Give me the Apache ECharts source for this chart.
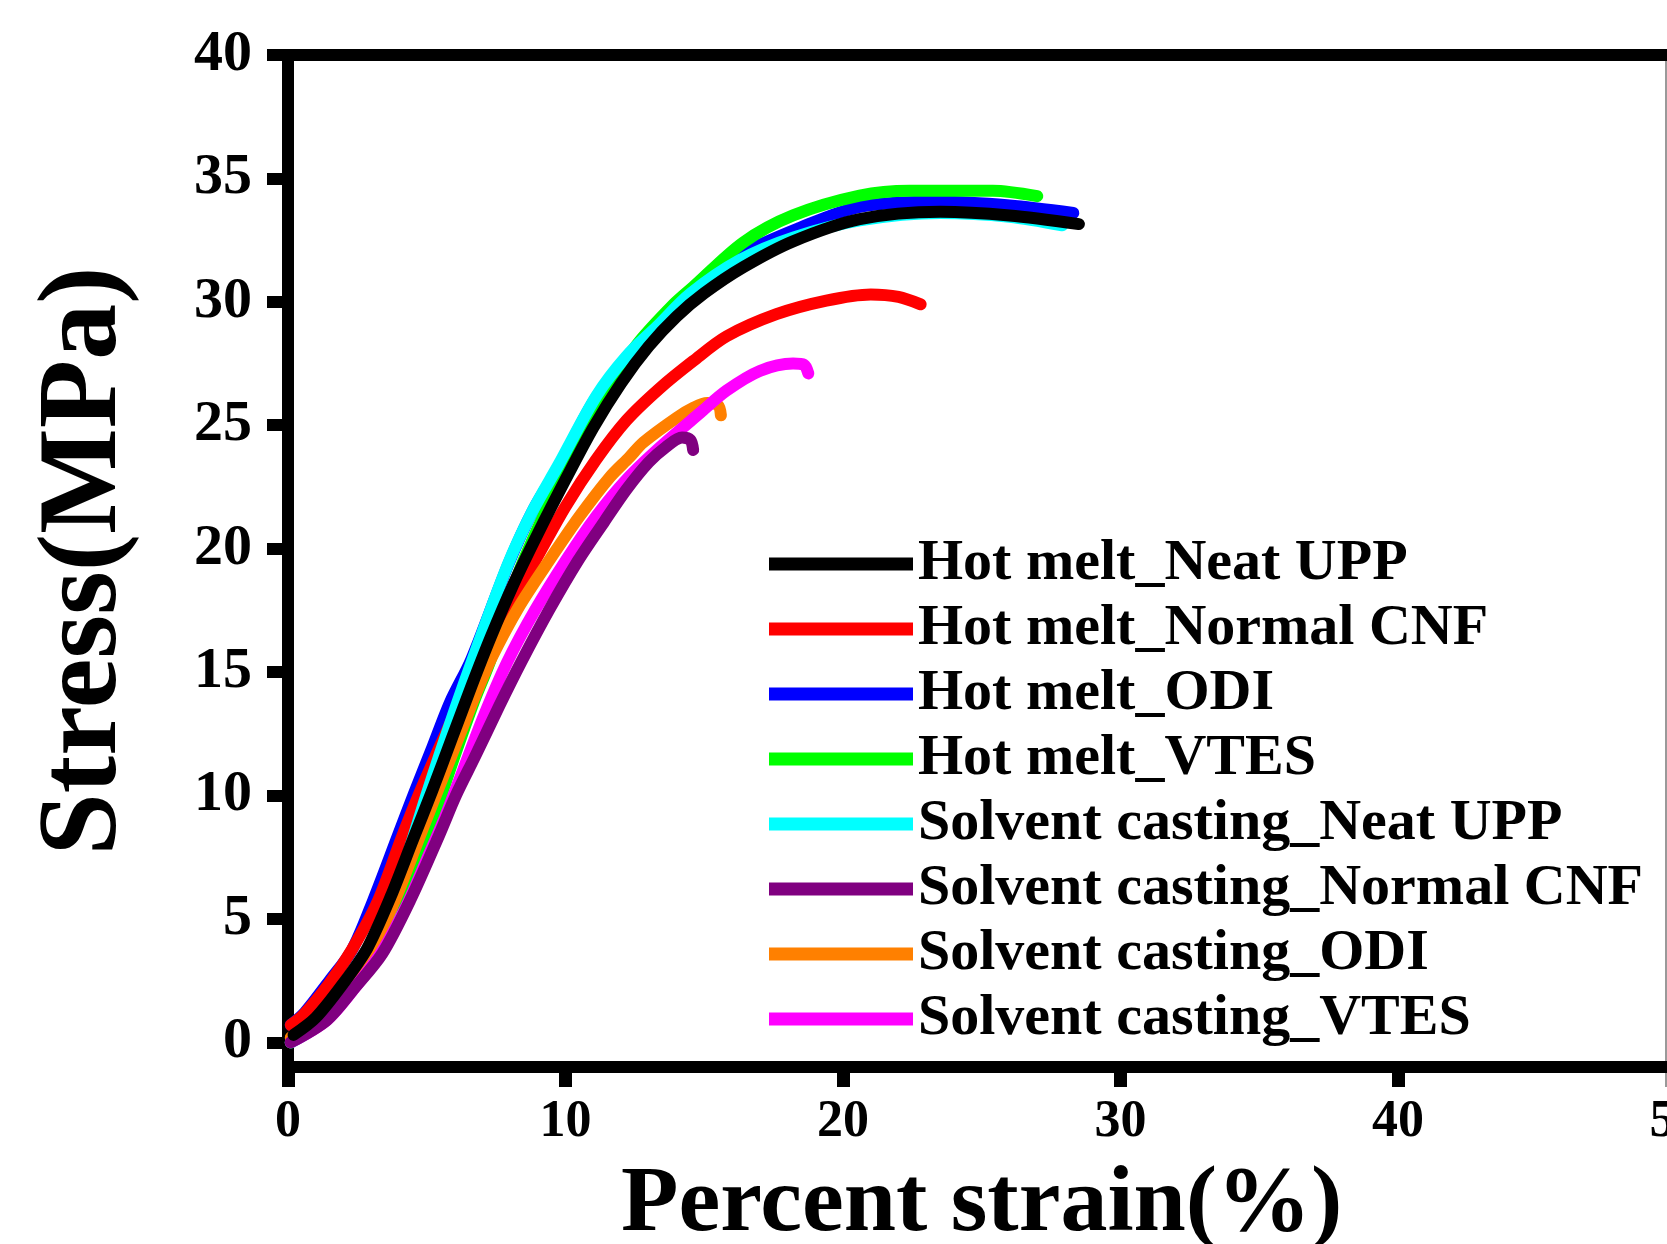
<!DOCTYPE html>
<html>
<head>
<meta charset="utf-8">
<script src="https://cdn.jsdelivr.net/npm/echarts@6/dist/echarts.min.js"></script>
<style>
  html, body { margin: 0; padding: 0; background: #fff; }
  #chart { width: 1667px; height: 1244px; }
</style>
</head>
<body>
<div id="chart"></div>
<script>
// series names, in the legend order
var seriesNames = [
  'Hot melt_Neat UPP',
  'Hot melt_Normal CNF',
  'Hot melt_ODI',
  'Hot melt_VTES',
  'Solvent casting_Neat UPP',
  'Solvent casting_Normal CNF',
  'Solvent casting_ODI',
  'Solvent casting_VTES'
];

var xTicks = [0, 10, 20, 30, 40, 50];
var yTicks = [0, 5, 10, 15, 20, 25, 30, 35, 40];

// [strain %, stress MPa]
var hotMeltNeat = [[0.2,0.3],[1.0,1.0],[2.0,2.4],[2.85,3.8],[3.7,5.9],[4.5,8.2],[5.2,10.2],[5.9,12.3],[6.6,14.4],[7.3,16.4],[8.1,18.5],[9.0,20.6],[10.0,22.8],[11.0,24.9],[12.0,26.7],[13.0,28.2],[14.0,29.4],[15.0,30.35],[16.4,31.4],[18.2,32.45],[20.6,33.35],[23.5,33.65],[26.0,33.5],[28.5,33.15]];
var hotMeltCNF = [[0.1,0.7],[0.55,1.1],[1.5,2.4],[2.3,3.75],[3.25,5.75],[4.1,8.3],[4.7,10.0],[5.4,11.8],[6.2,13.8],[7.0,15.7],[8.0,17.7],[8.9,19.5],[10.0,21.7],[11.1,23.6],[12.2,25.2],[13.4,26.5],[14.6,27.6],[15.8,28.6],[17.6,29.5],[19.4,30.05],[21.0,30.3],[22.0,30.2],[22.8,29.9]];
var hotMeltODI = [[0.1,0.7],[0.6,1.2],[1.5,2.5],[2.3,3.73],[3.07,5.75],[3.97,8.4],[4.55,10.1],[5.15,11.8],[5.85,13.8],[6.6,15.5],[7.95,19.4],[8.85,21.6],[9.8,23.4],[11.15,26.2],[13.3,29.0],[14.45,30.35],[16.2,31.85],[18.45,33.0],[20.6,33.85],[23.5,34.05],[26.0,33.9],[28.3,33.6]];
var hotMeltVTES = [[0.1,0.0],[1.4,1.0],[2.4,2.3],[3.3,3.7],[4.1,5.75],[5.05,8.46],[5.95,11.43],[6.7,13.8],[7.3,15.5],[8.3,19.0],[9.9,23.0],[11.2,26.0],[12.6,28.3],[13.9,29.9],[14.6,30.6],[16.4,32.4],[18.2,33.5],[20.6,34.3],[22.4,34.5],[25.4,34.5],[27.0,34.28]];
var solventNeat = [[0.1,0.0],[0.8,0.45],[1.4,1.03],[2.35,2.38],[3.2,3.73],[3.8,5.7],[4.35,7.7],[4.9,9.7],[5.45,11.6],[6.05,13.6],[6.65,15.5],[7.9,19.3],[8.8,21.5],[9.75,23.4],[11.12,26.2],[12.2,27.8],[13.3,29.0],[14.5,30.33],[16.3,31.7],[18.2,32.6],[20.6,33.3],[23.5,33.6],[26.0,33.45],[27.9,33.1]];
var solventCNF = [[0.1,0.0],[1.4,0.9],[2.4,2.2],[3.4,3.6],[4.4,5.75],[5.45,8.4],[6.05,10.0],[6.75,11.6],[7.6,13.6],[8.4,15.4],[9.4,17.5],[10.46,19.53],[11.4,21.1],[12.2,22.4],[13.0,23.5],[13.6,24.1],[14.2,24.5],[14.5,24.4],[14.6,24.0]];
var solventODI = [[0.1,0.2],[1.3,1.0],[2.2,2.3],[3.0,3.7],[3.85,5.75],[4.8,8.5],[5.5,10.5],[6.2,12.5],[6.8,14.2],[7.3,15.5],[8.3,17.6],[9.4,19.5],[10.5,21.3],[11.6,22.9],[12.3,23.7],[12.8,24.3],[14.0,25.3],[14.6,25.7],[15.1,25.9],[15.5,25.8],[15.6,25.4]];
var solventVTES = [[0.1,0.0],[1.4,0.9],[2.4,2.2],[3.4,3.7],[4.3,5.6],[5.0,7.4],[5.65,9.1],[6.3,11.0],[7.05,13.2],[7.9,15.4],[8.9,17.5],[10.0,19.5],[11.1,21.3],[12.2,22.8],[13.4,24.1],[14.85,25.5],[15.8,26.4],[17.0,27.2],[18.2,27.5],[18.6,27.45],[18.75,27.1]];

var font = 'Liberation Serif, Times New Roman, serif';

function curve(name, data, color) {
  return {
    name: name,
    type: 'line',
    data: data,
    showSymbol: false,
    symbol: 'none',
    smooth: 0.3,
    itemStyle: { color: color },
    lineStyle: { color: color, width: 12, cap: 'round', join: 'round' }
  };
}

var chart = echarts.init(document.getElementById('chart'), null, { renderer: 'canvas' });

chart.setOption({
  animation: false,
  backgroundColor: '#fff',
  // the x axis runs on past the right edge of the picture (50 is cut off)
  grid: { left: 288, top: 55, width: 1387.5, height: 1012, outerBoundsMode: 'none', containLabel: false },
  xAxis: [{
    type: 'value',
    position: 'bottom',
    min: 0,
    max: 50,
    interval: 10,
    name: 'Percent strain(%)',
    nameLocation: 'middle',
    nameGap: 92,
    nameTextStyle: { fontFamily: font, fontWeight: 'bold', fontSize: 94, color: '#000' },
    axisLine: { show: true, onZero: false, lineStyle: { color: '#000', width: 12 } },
    axisTick: { show: true, length: 20, lineStyle: { color: '#000', width: 13 } },
    axisLabel: {
      customValues: xTicks,
      margin: 30, color: '#000', fontFamily: font, fontWeight: 'bold', fontSize: 52
    },
    splitLine: { show: false }
  }, {
    type: 'value',
    position: 'top',
    min: 0,
    max: 50,
    axisLine: { show: true, onZero: false, lineStyle: { color: '#000', width: 12 } },
    axisTick: { show: false },
    axisLabel: { show: false },
    splitLine: { show: false }
  }],
  yAxis: {
    type: 'value',
    min: -1,
    max: 40,
    name: 'Stress(MPa)',
    nameLocation: 'middle',
    nameGap: 146,
    nameTextStyle: { fontFamily: font, fontWeight: 'bold', fontSize: 112, color: '#000' },
    axisLine: { show: true, onZero: false, lineStyle: { color: '#000', width: 12 } },
    axisTick: { show: true, customValues: yTicks, length: 21, lineStyle: { color: '#000', width: 12 } },
    axisLabel: {
      customValues: yTicks,
      margin: 36, color: '#000', fontFamily: font, fontWeight: 'bold', fontSize: 58
    },
    splitLine: { show: false }
  },
  legend: {
    orient: 'vertical',
    left: 764,
    top: 530,
    data: seriesNames,
    icon: 'rect',
    itemWidth: 144,
    itemHeight: 13,
    itemGap: 7,
    textStyle: { fontFamily: font, fontWeight: 'bold', fontSize: 58, lineHeight: 58, color: '#000' }
  },
  graphic: [{
    type: 'line',
    shape: { x1: 1666, y1: 60, x2: 1666, y2: 1087 },
    style: { stroke: '#777', lineWidth: 1.5 }
  }],
  // drawing order: later series sit on top
  series: [
    curve(seriesNames[2], hotMeltODI, '#0000ff'),
    curve(seriesNames[3], hotMeltVTES, '#00ff00'),
    curve(seriesNames[1], hotMeltCNF, '#ff0000'),
    curve(seriesNames[4], solventNeat, '#00ffff'),
    curve(seriesNames[6], solventODI, '#ff8000'),
    curve(seriesNames[7], solventVTES, '#ff00ff'),
    curve(seriesNames[5], solventCNF, '#800080'),
    curve(seriesNames[0], hotMeltNeat, '#000000')
  ]
});
</script>
</body>
</html>
